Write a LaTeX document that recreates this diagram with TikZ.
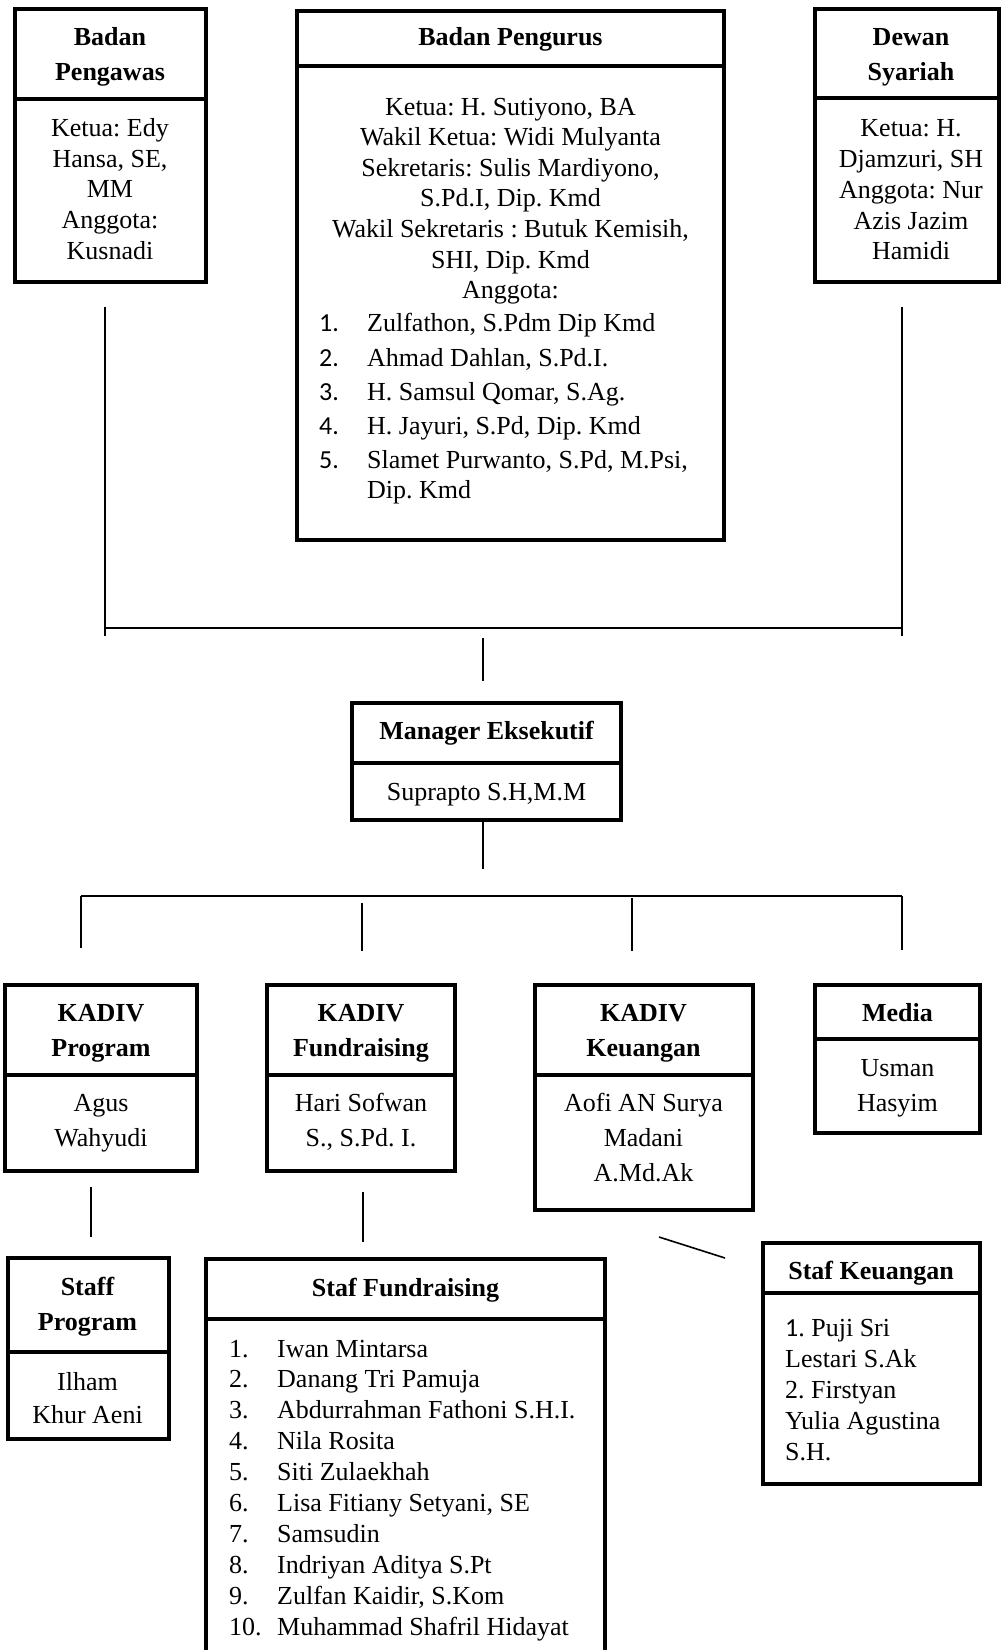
\documentclass[tikz,border=0pt]{standalone}
\usepackage{fontspec}
\setmainfont{Liberation Serif}
\newfontfamily\numfont{Carlito}
\usetikzlibrary{fit}
\begin{document}
\frenchspacing
\begin{tikzpicture}[x=1pt,y=-1pt,
  frame/.style={draw, line width=4pt, inner sep=0pt, outer sep=0pt},
  ttl/.style={font={\fontsize{26}{35}\selectfont\bfseries}, align=center, anchor=base, inner sep=0pt},
  bod/.style={font={\fontsize{26}{30.6}\selectfont}, align=center, anchor=base, inner sep=0pt},
  bodw/.style={font={\fontsize{26}{35}\selectfont}, align=center, anchor=base, inner sep=0pt},
  lst/.style={font={\fontsize{26}{30.9}\selectfont}, align=left, anchor=base west, inner sep=0pt},
  num/.style={font={\fontsize{26}{30}\numfont}, anchor=base west, inner sep=0pt},
  link/.style={line width=2pt},
  thin/.style={line width=1.6pt},
]
\useasboundingbox[fill=white] (0,0) rectangle (1001,1650);

% (multi-line text nodes are anchored at the baseline of their last line)

% ---------- Badan Pengawas ----------
\node[frame, fit={(14.5,8.7) (205.5,98.7)}] (bpwT) {};
\node[frame, fit={(14.5,98.7) (205.5,281.5)}] (bpwB) {};
\node[ttl] (bpwTt) at (110,80.7) {Badan\\Pengawas};
\node[bod] (bpwBt) at (110,259.1) {Ketua: Edy\\Hansa, SE,\\MM\\Anggota:\\Kusnadi};

% ---------- Badan Pengurus ----------
\node[frame, fit={(297,10.5) (724,66)}] (bpgT) {};
\node[frame, fit={(297,66) (724,540)}] (bpgB) {};
\node[ttl] (bpgTt) at (510.5,45.7) {Badan Pengurus};
\node[bod] (bpgBt) at (510.5,298.6) {Ketua: H. Sutiyono, BA\\Wakil Ketua: Widi Mulyanta\\Sekretaris: Sulis Mardiyono,\\S.Pd.I, Dip. Kmd\\Wakil Sekretaris : Butuk Kemisih,\\SHI, Dip. Kmd\\Anggota:};
\node[num] (bpgN1) at (319,331.7) {1.};
\node[num] (bpgN2) at (319,366.7) {2.};
\node[num] (bpgN3) at (319,400) {3.};
\node[num] (bpgN4) at (319,434) {4.};
\node[num] (bpgN5) at (319,468) {5.};
\node[lst] (bpgL1) at (367,331.7) {Zulfathon, S.Pdm Dip Kmd};
\node[lst] (bpgL2) at (367,366.7) {Ahmad Dahlan, S.Pd.I.};
\node[lst] (bpgL3) at (367,400) {H. Samsul Qomar, S.Ag.};
\node[lst] (bpgL4) at (367,434) {H. Jayuri, S.Pd, Dip. Kmd};
\node[lst, font={\fontsize{26}{30}\selectfont}] (bpgL5) at (367,498) {Slamet Purwanto, S.Pd, M.Psi,\\Dip. Kmd};

% ---------- Dewan Syariah ----------
\node[frame, fit={(815,8.7) (999,98)}] (dsT) {};
\node[frame, fit={(815,98) (999,281.5)}] (dsB) {};
\node[ttl] (dsTt) at (911,80.7) {Dewan\\Syariah};
\node[bod, font={\fontsize{26}{30.8}\selectfont}] (dsBt) at (911,259.9) {Ketua: H.\\Djamzuri, SH\\Anggota: Nur\\Azis Jazim\\Hamidi};

% ---------- Manager ----------
\node[frame, fit={(352,703) (621,763)}] (mgT) {};
\node[frame, fit={(352,763) (621,819.5)}] (mgB) {};
\node[ttl] (mgTt) at (486.5,739.7) {Manager Eksekutif};
\node[bod] (mgBt) at (486.5,800) {Suprapto S.H,M.M};

% ---------- KADIV Program ----------
\node[frame, fit={(5.3,985.3) (197,1075)}] (kpT) {};
\node[frame, fit={(5.3,1075) (197,1170.5)}] (kpB) {};
\node[ttl] (kpTt) at (101,1056.7) {KADIV\\Program};
\node[bodw] (kpBt) at (101,1146.7) {Agus\\Wahyudi};

% ---------- KADIV Fundraising ----------
\node[frame, fit={(267,985.3) (455,1075)}] (kfT) {};
\node[frame, fit={(267,1075) (455,1170.5)}] (kfB) {};
\node[ttl] (kfTt) at (361,1056.7) {KADIV\\Fundraising};
\node[bodw] (kfBt) at (361,1146.7) {Hari Sofwan\\S., S.Pd. I.};

% ---------- KADIV Keuangan ----------
\node[frame, fit={(535,985.3) (753,1075)}] (kkT) {};
\node[frame, fit={(535,1075) (753,1210)}] (kkB) {};
\node[ttl] (kkTt) at (643.5,1056.7) {KADIV\\Keuangan};
\node[bodw] (kkBt) at (643.5,1181.7) {Aofi AN Surya\\Madani\\A.Md.Ak};

% ---------- Media ----------
\node[frame, fit={(815,985.3) (980.3,1039)}] (mdT) {};
\node[frame, fit={(815,1039) (980.3,1133)}] (mdB) {};
\node[ttl] (mdTt) at (897.5,1021.7) {Media};
\node[bodw] (mdBt) at (897.5,1111.7) {Usman\\Hasyim};

% ---------- Staff Program ----------
\node[frame, fit={(8,1258) (168.5,1352)}] (spT) {};
\node[frame, fit={(8,1352) (168.5,1439)}] (spB) {};
\node[ttl] (spTt) at (87.5,1330) {Staff\\Program};
\node[bod, font={\fontsize{26}{33}\selectfont}] (spBt) at (87.5,1423) {Ilham\\Khur Aeni};

% ---------- Staf Fundraising ----------
\node[frame, fit={(206,1259) (605,1319)}] (sfT) {};
\node[frame, fit={(206,1319) (605,1672)}] (sfB) {};
\node[ttl] (sfTt) at (405.5,1296.7) {Staf Fundraising};
\node[lst] (sfN) at (229,1635.1) {1.\\2.\\3.\\4.\\5.\\6.\\7.\\8.\\9.\\10.};
\node[lst] (sfL) at (277,1635.1) {Iwan Mintarsa\\Danang Tri Pamuja\\Abdurrahman Fathoni S.H.I.\\Nila Rosita\\Siti Zulaekhah\\Lisa Fitiany Setyani, SE\\Samsudin\\Indriyan Aditya S.Pt\\Zulfan Kaidir, S.Kom\\Muhammad Shafril Hidayat};

% ---------- Staf Keuangan ----------
\node[frame, fit={(763,1242.5) (979.5,1293)}] (skT) {};
\node[frame, fit={(763,1293) (979.5,1484)}] (skB) {};
\node[ttl] (skTt) at (871,1279) {Staf Keuangan};
\node[lst, font={\fontsize{26}{31}\selectfont}] (skBt) at (785,1460) {{\numfont 1}. Puji Sri\\Lestari S.Ak\\2. Firstyan\\Yulia Agustina\\S.H.};

% ---------- connectors ----------
\coordinate (c1a) at (105,307);  \coordinate (c1b) at (105,636);
\coordinate (c2a) at (902,307);  \coordinate (c2b) at (902,636);
\coordinate (h1l) at (105,628);  \coordinate (h1r) at (902,628);
\coordinate (c3a) at (483,638);  \coordinate (c3b) at (483,681);
\coordinate (c4a) at (483,822);  \coordinate (c4b) at (483,869);
\coordinate (h2l) at (81,896);   \coordinate (h2r) at (902,896);
\coordinate (d1b) at (81,948);
\coordinate (d2a) at (362,903);  \coordinate (d2b) at (362,951);
\coordinate (d3a) at (632,898);  \coordinate (d3b) at (632,951);
\coordinate (d4b) at (902,950);
\coordinate (e1a) at (91,1187);  \coordinate (e1b) at (91,1237);
\coordinate (e2a) at (363,1192); \coordinate (e2b) at (363,1242);
\coordinate (e3a) at (659,1237); \coordinate (e3b) at (725,1258);

\draw[thin] (c1a) -- (c1b);
\draw[thin] (c2a) -- (c2b);
\draw[link] (h1l) -- (h1r);
\draw[thin] (c3a) -- (c3b);
\draw[thin] (c4a) -- (c4b);
\draw[link] (h2l) -- (h2r);
\draw[thin] (h2l) -- (d1b);
\draw[link] (d2a) -- (d2b);
\draw[link] (d3a) -- (d3b);
\draw[link] (h2r) -- (d4b);
\draw[thin] (e1a) -- (e1b);
\draw[thin] (e2a) -- (e2b);
\draw[thin] (e3a) -- (e3b);
\end{tikzpicture}
\end{document}
